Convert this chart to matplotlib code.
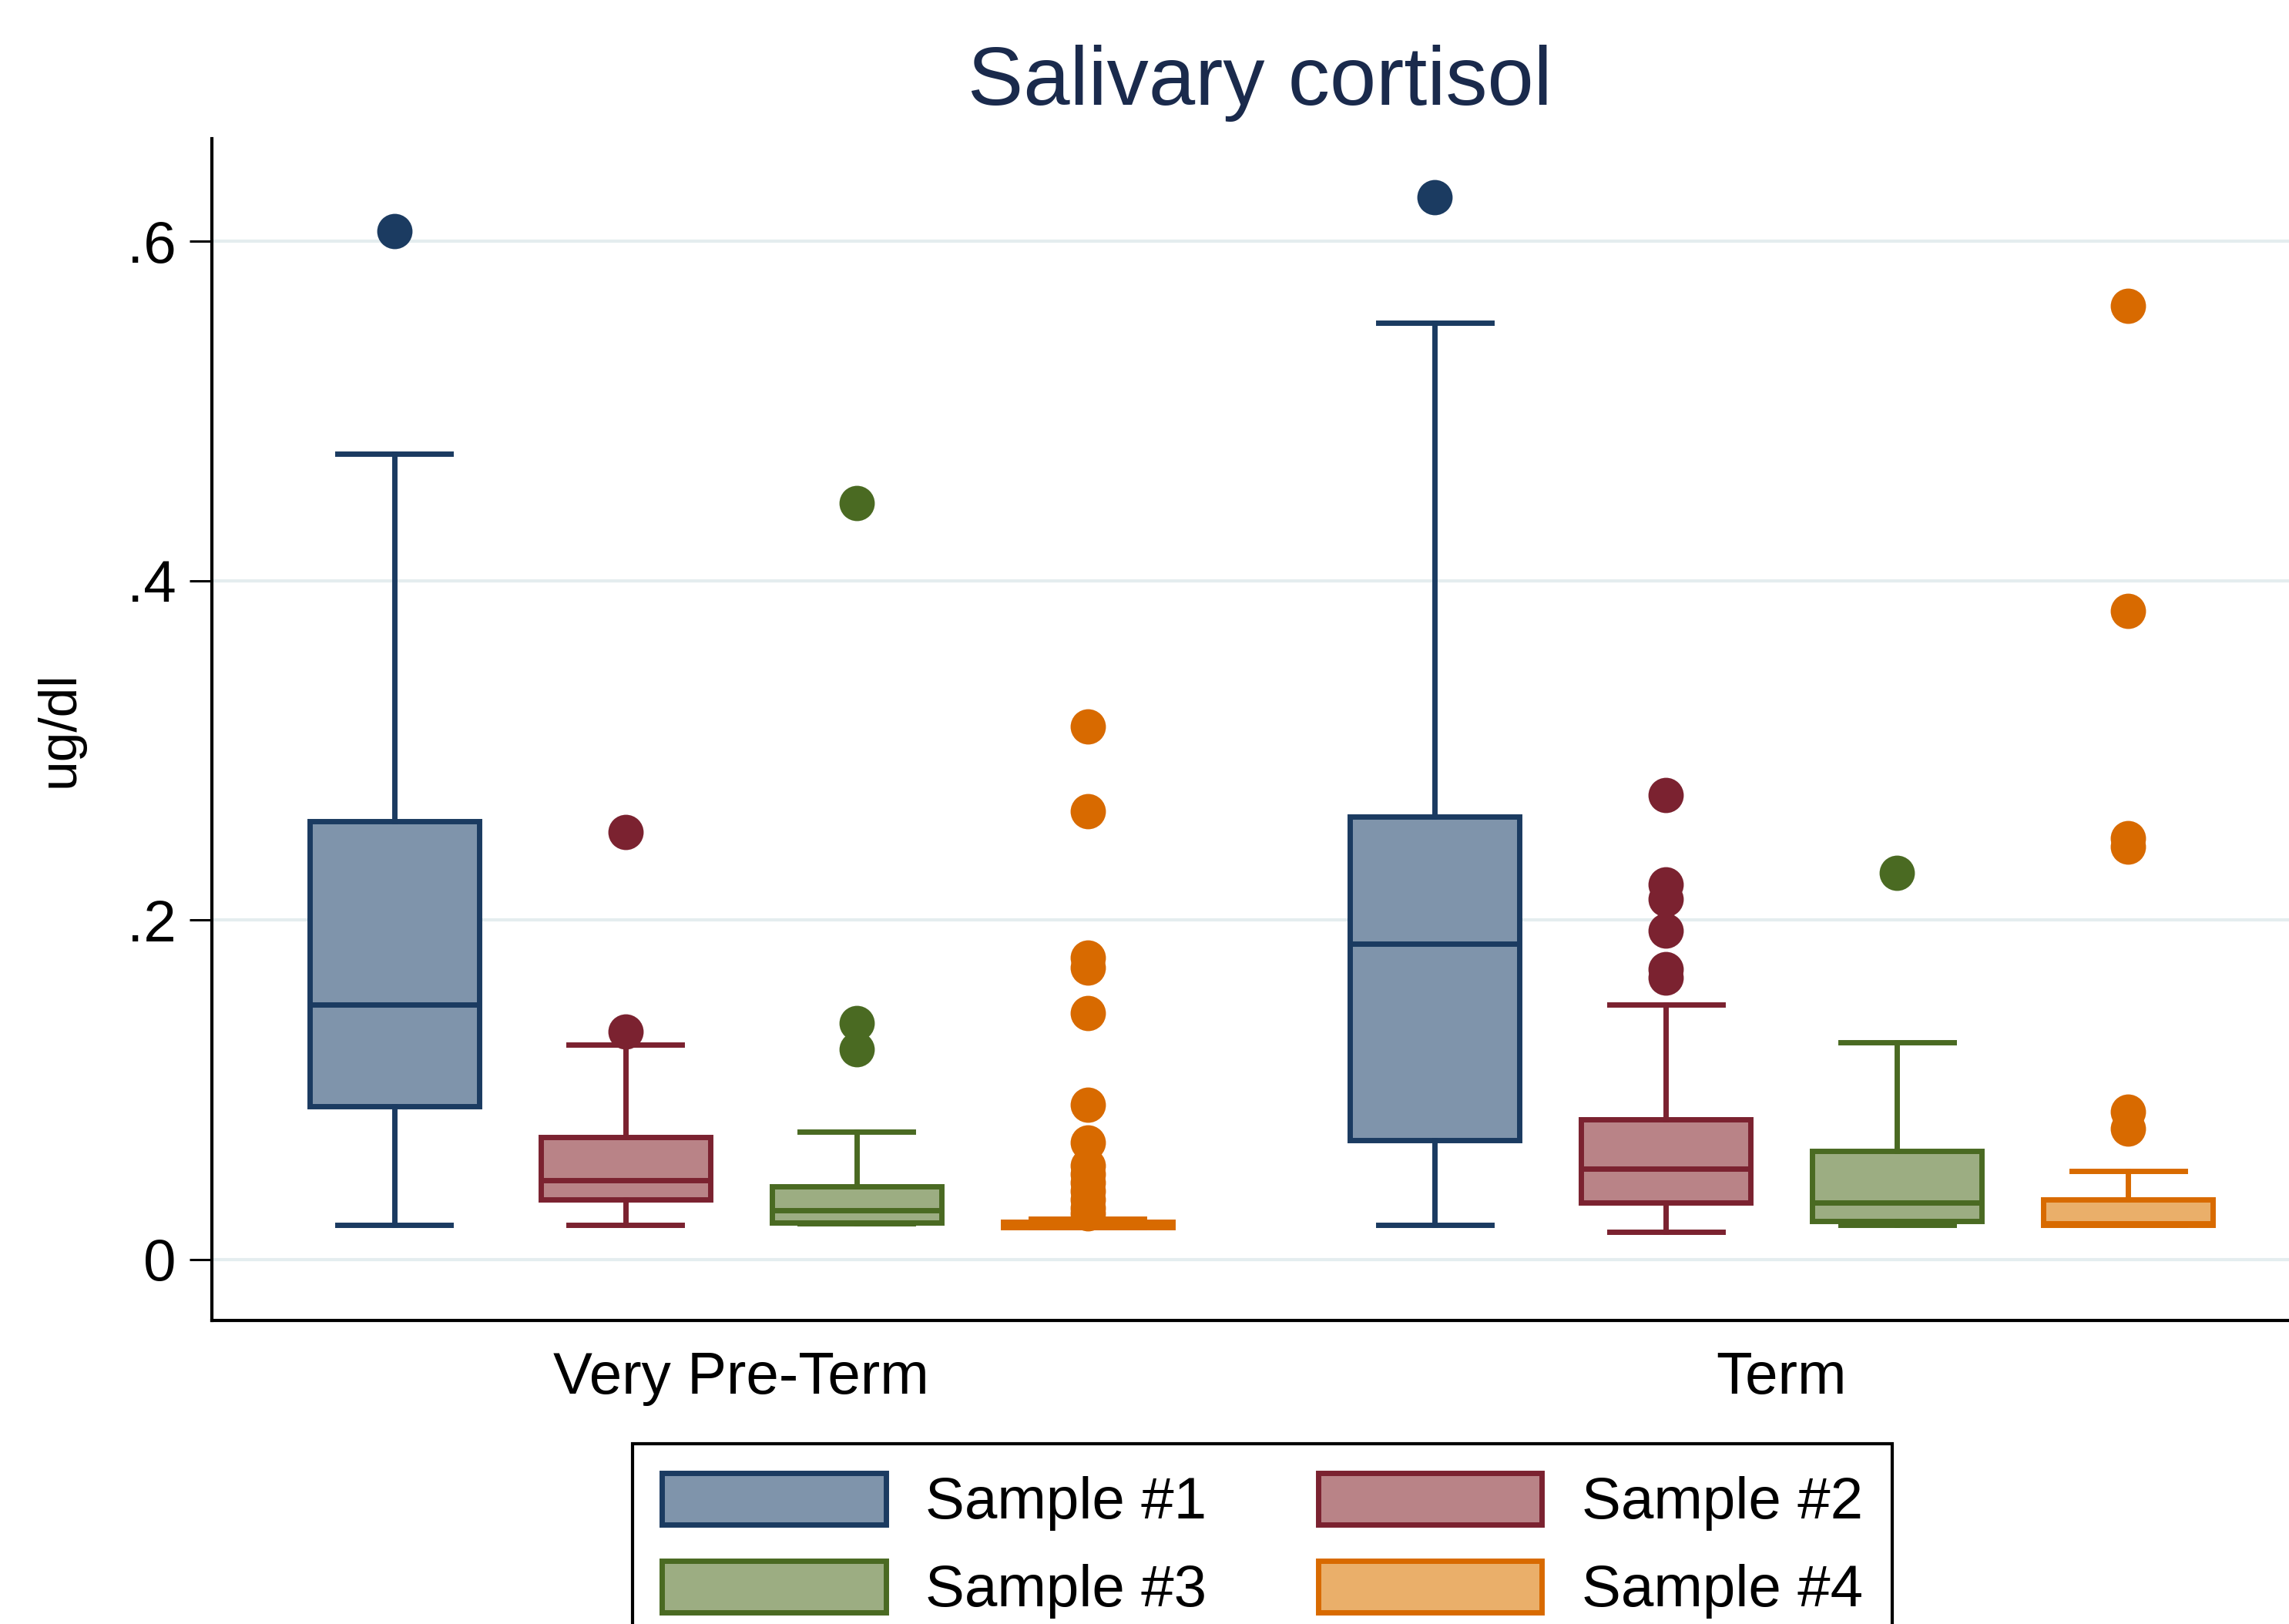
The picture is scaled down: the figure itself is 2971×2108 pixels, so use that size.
import matplotlib
matplotlib.use("Agg")
import matplotlib.pyplot as plt
from matplotlib.patches import Patch

plt.rcParams['font.family'] = ['Liberation Sans', 'DejaVu Sans']

# group / sample layout
groups = ['Very Pre-Term', 'Term']
samples = ['Sample #1', 'Sample #2', 'Sample #3', 'Sample #4']
positions = [0, 1, 2, 3, 4.5, 5.5, 6.5, 7.5]
group_centers = [1.5, 6.0]

# box stats (VPT s1..s4, Term s1..s4)
whislo = [0.020, 0.020, 0.021, 0.019, 0.020, 0.016, 0.020, 0.020]
q1 = [0.090, 0.035, 0.0215, 0.019, 0.070, 0.0335, 0.0224, 0.020]
med = [0.150, 0.0465, 0.029, 0.020, 0.186, 0.0533, 0.0335, 0.021]
q3 = [0.258, 0.072, 0.043, 0.022, 0.261, 0.0826, 0.0637, 0.0354]
whishi = [0.475, 0.1265, 0.075, 0.024, 0.552, 0.150, 0.128, 0.052]
fliers = [
    [0.606],
    [0.134, 0.252],
    [0.446, 0.139, 0.124],
    [0.314, 0.264, 0.178, 0.172, 0.145, 0.091, 0.069, 0.055, 0.050,
     0.045, 0.040, 0.035, 0.030, 0.027],
    [0.626],
    [0.2735, 0.221, 0.2125, 0.1935, 0.171, 0.166],
    [0.228],
    [0.562, 0.382, 0.248, 0.243, 0.087, 0.077],
]

edge_colors = ['#1b3b61', '#7b2230', '#4a6a22', '#d86a00']
fill_colors = ['#7f94ab', '#b98387', '#9cad82', '#eaaf6a']

fig = plt.figure(figsize=(29.71, 21.08), dpi=100)
ax = fig.add_axes([0.0925, 0.1869, 0.917, 0.7277])

ax.set_xlim(-0.79, 8.29)
ax.set_ylim(-0.0361, 0.6606)

for yv in [0, 0.2, 0.4, 0.6]:
    ax.axhline(yv, color='#e4edef', linewidth=3, zorder=0)

lw = 5
for i, p in enumerate(positions):
    c = i % 4
    st = [{'whislo': whislo[i], 'q1': q1[i], 'med': med[i], 'q3': q3[i],
           'whishi': whishi[i], 'fliers': fliers[i]}]
    ax.bxp(st, positions=[p], widths=0.734, capwidths=0.49, patch_artist=True,
           manage_ticks=False,
           boxprops=dict(facecolor=fill_colors[c], edgecolor=edge_colors[c], linewidth=lw),
           medianprops=dict(color=edge_colors[c], linewidth=lw),
           whiskerprops=dict(color=edge_colors[c], linewidth=lw),
           capprops=dict(color=edge_colors[c], linewidth=lw),
           flierprops=dict(marker='o', markerfacecolor=edge_colors[c],
                           markeredgecolor='none', markersize=33))

ax.spines['top'].set_visible(False)
ax.spines['right'].set_visible(False)
ax.spines['left'].set_linewidth(3)
ax.spines['bottom'].set_linewidth(3)

ax.set_yticks([0, 0.2, 0.4, 0.6])
ax.set_yticklabels(['0', '.2', '.4', '.6'])
ax.tick_params(axis='y', length=21, width=2.2, pad=12, labelsize=55)
ax.set_xticks(group_centers)
ax.set_xticklabels(groups)
ax.tick_params(axis='x', length=0, pad=29, labelsize=55)
ax.set_ylabel('ug/dl', fontsize=50, labelpad=40)

fig.text(0.5505, 0.9353, 'Salivary cortisol', ha='center', va='baseline',
         fontsize=78, color='#1a2a4c')

# row-wise order like the reference: #1 #2 / #3 #4
order = [0, 2, 1, 3]
handles = [Patch(facecolor=fill_colors[k], edgecolor=edge_colors[k], linewidth=lw)
           for k in order]
labels = [samples[k] for k in order]
leg = fig.legend(handles, labels, ncol=2, loc='upper center',
                 bbox_to_anchor=(0.5515, 0.1123 + 0.017), fontsize=55,
                 frameon=True, fancybox=False, edgecolor='black', framealpha=1,
                 handlelength=3.8, handleheight=0.97, handletextpad=0.67,
                 columnspacing=1.9, labelspacing=0.5, borderpad=0.5)
leg.get_frame().set_linewidth(3)

fig.savefig('out.png', dpi=100, facecolor='white')
